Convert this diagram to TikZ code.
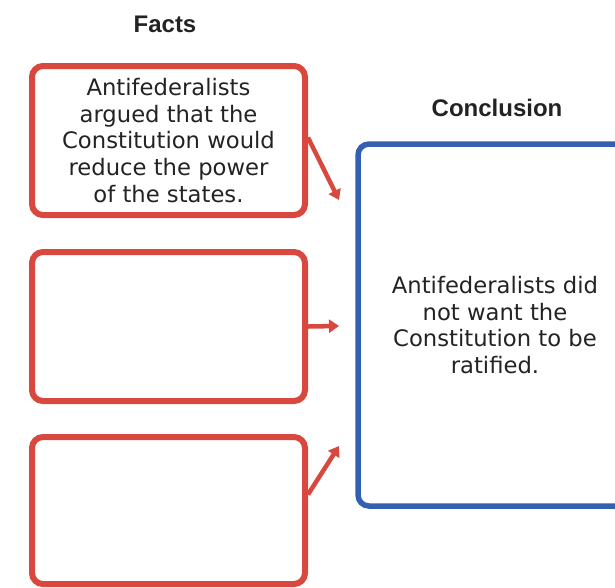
\documentclass[tikz,border=0pt]{standalone}
\usepackage{fontspec}
\setmainfont{Liberation Sans}
\newfontfamily\bodyfont{DejaVu Sans}
\usepackage{tikz}
\usetikzlibrary{arrows.meta}
\definecolor{factred}{RGB}{216,72,62}
\definecolor{conblue}{RGB}{52,96,178}
\definecolor{inktext}{RGB}{35,35,35}

\begin{document}
\begin{tikzpicture}[x=1pt,y=-1pt]
      \tikzstyle{fact} = [draw=factred, line width=6pt, rounded corners=11pt, minimum width=273pt, minimum height=149pt, align=center, text=inktext, font=\bodyfont\fontsize{22.7}{26.6}\selectfont]
      \tikzstyle{concl} = [fact, draw=conblue, line width=5.5pt, minimum width=274pt, minimum height=362pt]
      \tikzstyle{head} = [text=inktext, font=\bfseries\fontsize{24}{28}\selectfont]
      \tikzstyle{link} = [-{Triangle[width=13pt,length=10pt]}, draw=factred, line width=4.5pt]
      \clip (0,0) rectangle (615,587);
      \node[head] (factshead) at (165,24) {Facts};
      \node[head] (conchead) at (497,108) {Conclusion};
      \node[fact] (f1) at (168.5,140.5) {Antifederalists\\argued that the\\Constitution would\\reduce the power\\of the states.};
      \node[fact] (f2) at (168.5,326.5) {};
      \node[fact, minimum height=147pt] (f3) at (168.5,510.5) {};
      \node[concl] (c) at (495,325) {Antifederalists did\\not want the\\Constitution to be\\ratified.};
      \coordinate (t1) at (339,200);
      \coordinate (t2) at (339,326);
      \coordinate (t3) at (339,446);
      \draw[link] ([yshift=3pt]f1.east) -- (t1);
      \draw[link] (f2.east) -- (t2);
      \draw[link] ([yshift=16pt]f3.east) -- (t3);
    \end{tikzpicture}
\end{document}
